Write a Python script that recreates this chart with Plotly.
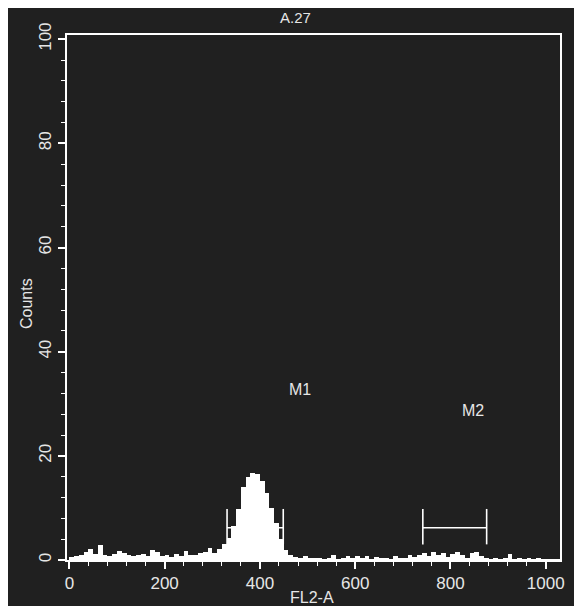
import plotly.graph_objects as go

# Histogram: FL2-A channel bins of width 10 (bin start values) and counts
bin_starts = list(range(0, 1030, 10))
counts = [
    0.5, 0.8, 1.0, 1.6, 2.2, 1.2, 2.8, 1.0, 0.8, 1.2,   # 0-100
    1.8, 1.4, 1.0, 0.7, 0.9, 1.2, 0.8, 2.0, 1.5, 0.8,   # 100-200
    0.9, 0.6, 1.1, 0.7, 1.8, 1.0, 0.9, 1.3, 1.6, 2.4,   # 200-300
    1.4, 2.2, 3.0, 4.2, 6.5, 9.8, 14.0, 16.0, 16.8, 16.5,  # 300-400
    15.2, 12.8, 10.0, 7.2, 4.0, 2.0, 1.0, 0.6, 0.4, 0.8,   # 400-500
    0.3, 0.2, 0.3, 0.1, 0.2, 0.9, 0.1, 0.3, 0.7, 0.2,   # 500-600
    0.8, 0.2, 0.7, 0.1, 0.6, 0.2, 0.3, 0.1, 0.7, 0.4,   # 600-700
    0.2, 0.9, 0.6, 1.0, 1.4, 0.8, 1.5, 0.9, 1.4, 0.6,   # 700-800
    1.2, 1.5, 0.9, 0.4, 1.3, 1.6, 0.7, 0.2, 0.1, 0.3,   # 800-900
    0.1, 0.2, 1.2, 0.1, 0.2, 0.1, 0.3, 0.1, 0.2, 0.1,   # 900-1000
    0.1, 0.1, 0.1,                                       # 1000-1030
]

# Marker gates (name, left, right) and label positions
gates = [("M1", 331, 449), ("M2", 742, 876)]
gate_label_x = [484, 847]
gate_label_y = [32.7, 28.8]
gate_bar_low, gate_bar_mid, gate_bar_high = 3.0, 6.2, 9.8

x_ticks = [0, 200, 400, 600, 800, 1000]
y_ticks = [0, 20, 40, 60, 80, 100]

BG = "#202020"
FG = "#e6e6e6"
FONT = "Liberation Sans, Arial, sans-serif"

fig = go.Figure()
fig.add_trace(go.Bar(
    x=[b + 5 for b in bin_starts[:len(counts)]], y=counts, width=10,
    marker=dict(color="white", line=dict(width=0)), showlegend=False,
))

for (name, lo, hi) in gates:
    fig.add_trace(go.Scatter(
        x=[lo, lo, None, hi, hi, None, lo, hi],
        y=[gate_bar_low, gate_bar_high, None, gate_bar_low, gate_bar_high, None, gate_bar_mid, gate_bar_mid],
        mode="lines", line=dict(color="white", width=1.6), showlegend=False, hoverinfo="skip",
    ))

for (name, _, _), gx, gy in zip(gates, gate_label_x, gate_label_y):
    fig.add_annotation(x=gx, y=gy, text=name, showarrow=False,
                       xanchor="center", yanchor="middle",
                       font=dict(size=16, color=FG, family=FONT))

# plot area on page: x 67..560, y 35..560 (525 px tall, 493 px wide)
fig.add_annotation(x=(295 - 67) / 493, y=(560 - 18) / 525, xref="paper", yref="paper",
                   text="A.27", showarrow=False, xanchor="center", yanchor="middle",
                   font=dict(size=15, color=FG, family=FONT))
fig.add_annotation(x=(312 - 67) / 493, y=(560 - 597) / 525, xref="paper", yref="paper",
                   text="FL2-A", showarrow=False, xanchor="center", yanchor="middle",
                   font=dict(size=16, color=FG, family=FONT))
fig.add_annotation(x=(26 - 67) / 493, y=(560 - 304) / 525, xref="paper", yref="paper",
                   text="Counts", textangle=-90, showarrow=False,
                   xanchor="center", yanchor="middle",
                   font=dict(size=16, color=FG, family=FONT))

fig.update_layout(
    width=570, height=598,
    margin=dict(l=59, r=18, t=27, b=46),
    paper_bgcolor=BG, plot_bgcolor=BG,
    bargap=0,
    font=dict(family=FONT, color=FG, size=16),
    xaxis=dict(
        range=[-5, 1030], tickvals=x_ticks, ticks="outside", ticklen=7, tickwidth=1.5,
        tickcolor="white", showline=True, linecolor="white", linewidth=2, mirror=True,
        showgrid=False, zeroline=False,
        minor=dict(dtick=40, ticks="outside", ticklen=4, tickcolor="white", tickwidth=1.2),
        tickfont=dict(size=17, color=FG),
    ),
    yaxis=dict(
        range=[0, 100.8], tickvals=y_ticks, ticks="outside", ticklen=7, tickwidth=1.5,
        tickcolor="white", showline=True, linecolor="white", linewidth=1.5, mirror=True,
        showgrid=False, zeroline=False, tickangle=-90,
        minor=dict(dtick=4, ticks="outside", ticklen=4, tickcolor="white", tickwidth=1.2),
        tickfont=dict(size=17, color=FG),
    ),
)

fig.write_html("out.html")
